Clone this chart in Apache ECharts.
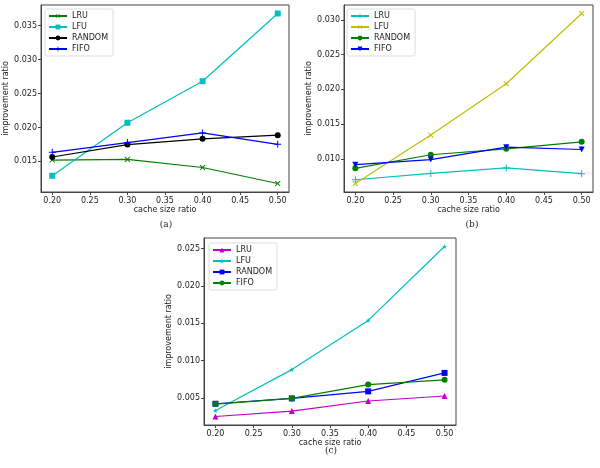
<!DOCTYPE html>
<html><head><meta charset="utf-8">
<script src="https://cdn.jsdelivr.net/npm/echarts@6/dist/echarts.min.js"></script>
<style>html,body{margin:0;padding:0;background:#fff}#c{width:600px;height:468px}</style>
</head><body><div id="c"></div>
<script>
// ---- data ----
const xCats = [0.2, 0.3, 0.4, 0.5];
const xTicks = [0.20, 0.25, 0.30, 0.35, 0.40, 0.45, 0.50];
const yTicksA = [0.015, 0.020, 0.025, 0.030, 0.035];
const yTicksB = [0.010, 0.015, 0.020, 0.025, 0.030];
const yTicksC = [0.005, 0.010, 0.015, 0.020, 0.025];
const seriesNames = ['LRU', 'LFU', 'RANDOM', 'FIFO'];
// panel (a)
const aLRU = [0.0152, 0.0153, 0.0141, 0.01174];
const aLFU = [0.01288, 0.0207, 0.02682, 0.0368];
const aRANDOM = [0.01565, 0.01748, 0.01832, 0.01886];
const aFIFO = [0.01634, 0.01777, 0.0192, 0.01752];
// panel (b)
const bLRU = [0.0070, 0.00791, 0.0087, 0.00787];
const bLFU = [0.00646, 0.01342, 0.02081, 0.03091];
const bRANDOM = [0.00864, 0.0106, 0.01145, 0.01246];
const bFIFO = [0.00917, 0.0099, 0.01168, 0.01135];
// panel (c)
const cLRU = [0.00253, 0.00325, 0.0046, 0.00527];
const cLFU = [0.00332, 0.0088, 0.01538, 0.02527];
const cRANDOM = [0.00423, 0.00495, 0.00589, 0.00836];
const cFIFO = [0.00419, 0.00495, 0.0068, 0.00743];
const captions = ['(a)', '(b)', '(c)'];

// ---- styles ----
const PLUS = 'path://M4.3,0H5.7V4.3H10V5.7H5.7V10H4.3V5.7H0V4.3H4.3Z';
const STAR = 'path://M5,0L6.2,3.8L10,3.8L6.9,6.1L8.1,10L5,7.6L1.9,10L3.1,6.1L0,3.8L3.8,3.8Z';
const G = '#008000', C = '#00bfbf', K = '#000000', B = '#0000ff', M = '#bf00bf', Y = '#bfbf00';
const txt = '#222';
const grids = [
  {left: 41, top: 5, width: 248, height: 187},
  {left: 344, top: 5, width: 249, height: 187},
  {left: 204, top: 238, width: 252, height: 187}
];
const yRanges = [[0.01049, 0.03805], [0.00524, 0.03213], [0.00139, 0.02641]];
const yTicks = [yTicksA, yTicksB, yTicksC];
const panels = [
  [[aLRU, G, PLUS, 7, 45], [aLFU, C, 'rect', 6, 0], [aRANDOM, K, 'circle', 6, 0], [aFIFO, B, PLUS, 7, 0]],
  [[bLRU, C, PLUS, 7, 0], [bLFU, Y, PLUS, 7, 45], [bRANDOM, G, 'circle', 6, 0], [bFIFO, B, 'triangle', 6, 180]],
  [[cLRU, M, 'triangle', 6, 0], [cLFU, C, STAR, 5, 0], [cRANDOM, B, 'rect', 6, 0], [cFIFO, G, 'circle', 6, 0]]
];
const legendPos = [{left: 45, top: 9}, {left: 347, top: 9}, {left: 209, top: 243}];

const xAxis = [], yAxis = [], series = [], legend = [], graphic = [];
grids.forEach((g, i) => {
  xAxis.push({
    type: 'value', gridIndex: i, min: 0.185, max: 0.515,
    name: 'cache size ratio', nameLocation: 'middle', nameGap: 14,
    nameTextStyle: {fontSize: 8, color: txt, fontFamily: 'DejaVu Sans'},
    axisLine: {show: true, onZero: false, lineStyle: {color: '#444', width: 1}},
    axisTick: {show: true, length: 3, lineStyle: {color: '#444'}, customValues: xTicks},
    axisLabel: {fontSize: 8, color: txt, margin: 5, fontFamily: 'DejaVu Sans', customValues: xTicks,
      formatter: v => v.toFixed(2)},
    splitLine: {show: false}
  });
  yAxis.push({
    type: 'value', gridIndex: i, min: yRanges[i][0], max: yRanges[i][1],
    name: 'improvement ratio', nameLocation: 'middle', nameGap: 30, nameRotate: 90,
    nameTextStyle: {fontSize: 8, color: txt, fontFamily: 'DejaVu Sans'},
    axisLine: {show: true, onZero: false, lineStyle: {color: '#444', width: 1}},
    axisTick: {show: true, length: 3, lineStyle: {color: '#444'}, customValues: yTicks[i]},
    axisLabel: {fontSize: 8, color: txt, margin: 4, fontFamily: 'DejaVu Sans', customValues: yTicks[i],
      formatter: v => v.toFixed(3)},
    splitLine: {show: false}
  });
  const names = [];
  panels[i].forEach((s, j) => {
    const nm = 'p' + i + '|' + seriesNames[j];
    names.push(nm);
    series.push({
      type: 'line', name: nm, xAxisIndex: i, yAxisIndex: i,
      data: xCats.map((x, k) => [x, s[0][k]]),
      symbol: s[2], symbolSize: s[3], symbolRotate: s[4], showAllSymbol: true,
      lineStyle: {color: s[1], width: 1.2},
      itemStyle: {color: s[1]},
      animation: false
    });
  });
  legend.push({
    data: names, orient: 'vertical', left: legendPos[i].left, top: legendPos[i].top,
    itemWidth: 18, itemHeight: 6, itemGap: 3, padding: [3, 5, 3, 3],
    borderColor: '#ddd', borderWidth: 1, borderRadius: 2, backgroundColor: '#fff',
    textStyle: {fontSize: 8, color: txt, fontFamily: 'DejaVu Sans'},
    formatter: n => n.split('|')[1], selectedMode: false
  });
});
const capPos = [[166, 225], [472, 225], [331, 451]];
capPos.forEach((p, i) => graphic.push({
  type: 'text', x: p[0], y: p[1],
  style: {text: captions[i], fontSize: 9, fontFamily: 'DejaVu Serif', fill: '#222', align: 'center', verticalAlign: 'middle'}
}));

const chart = echarts.init(document.getElementById('c'), null, {renderer: 'canvas'});
chart.setOption({
  animation: false,
  grid: grids.map(g => Object.assign({show: true, borderColor: '#444', borderWidth: 1, backgroundColor: 'transparent', containLabel: false}, g)),
  xAxis, yAxis, series, legend, graphic
});
</script></body></html>
